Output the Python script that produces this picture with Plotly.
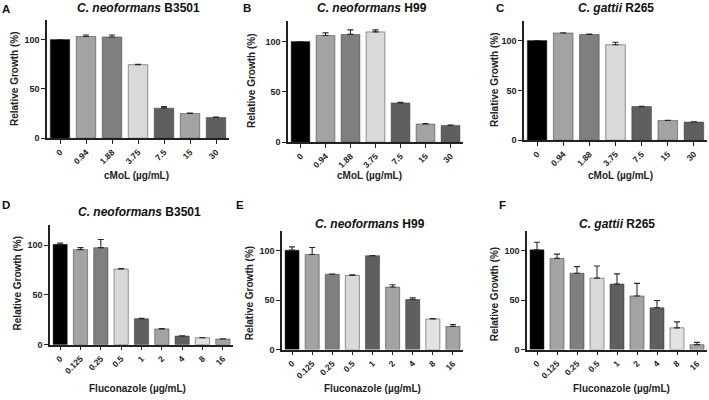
import plotly.graph_objects as go

W, H = 709, 400

# ---------------- data ----------------
cmol_labels = ["0", "0.94", "1.88", "3.75", "7.5", "15", "30"]
flu_labels = ["0", "0.125", "0.25", "0.5", "1", "2", "4", "8", "16"]

A_vals = [100, 103, 102.5, 74.5, 30.5, 25, 21]
A_err = [0, 1.5, 2, 0.5, 1.5, 0.5, 0.4]
B_vals = [100, 106, 107, 109.5, 39, 18, 16.7]
B_err = [0, 2.5, 4.5, 2, 0.6, 0.4, 0.3]
C_vals = [100, 107.5, 106, 95.7, 33.7, 19.8, 18.2]
C_err = [0, 0.3, 0.5, 2.6, 0.3, 0.3, 0.3]
D_vals = [100.7, 95.4, 97.4, 75.9, 26, 15.8, 8.6, 6.9, 5.6]
D_err = [1.3, 2, 8.2, 0.4, 0.5, 0.4, 0.3, 0.3, 0.3]
E_vals = [100.7, 96.3, 76.3, 75, 95, 63.3, 50.7, 31, 23.3]
E_err = [3.3, 7, 0.3, 0.6, 0.2, 2.4, 1.6, 0.4, 2]
F_vals = [101, 92.3, 77.3, 72.3, 66.3, 54.3, 42.3, 22, 5]
F_err = [7.7, 4.4, 6.7, 12.4, 10.4, 12.7, 7.4, 6, 2.3]

bar_colors = ["#000000", "#a3a3a3", "#7f7f7f", "#d9d9d9", "#5f5f5f",
              "#a3a3a3", "#5f5f5f", "#e2e2e2", "#a3a3a3"]

titles = [
    "<b><i>C. neoformans</i> B3501</b>",
    "<b><i>C. neoformans</i> H99</b>",
    "<b><i>C. gattii</i> R265</b>",
    "<b><i>C. neoformans</i> B3501</b>",
    "<b><i>C. neoformans</i> H99</b>",
    "<b><i>C. gattii</i> R265</b>",
]
letters = ["A", "B", "C", "D", "E", "F"]
xtitles = ["cMoL (µg/mL)"] * 3 + ["Fluconazole (µg/mL)"] * 3

panels = [
    (cmol_labels, A_vals, A_err),
    (cmol_labels, B_vals, B_err),
    (cmol_labels, C_vals, C_err),
    (flu_labels, D_vals, D_err),
    (flu_labels, E_vals, E_err),
    (flu_labels, F_vals, F_err),
]

# ---------------- layout geometry (pixels) ----------------
geom = [
    (47, 229, 140, 20),
    (288, 463, 144, 21.6),
    (524, 707, 142, 20.8),
    (50, 233, 349, 228),
    (282, 463, 354, 234),
    (527, 707, 354, 234),
]
title_pos = [(138, 8), (372, 8), (616, 8), (139, 215), (370, 227), (617, 227)]
letter_pos = [(6, 9), (247, 8), (500, 8), (6, 208), (240, 208), (502, 208)]
ytitle_pos = [(15, 80), (252, 82), (495, 81), (17, 287), (249, 297), (494, 298)]
xtitle_pos = [(136, 178), (369, 178), (620, 178), (137, 393), (372, 393), (621, 393)]

FONT = "Arial, Liberation Sans, sans-serif"

def px(x):
    return x / W

def py(y):
    return 1 - y / H

fig = go.Figure()
layout = dict(
    width=W, height=H,
    margin=dict(l=0, r=0, t=0, b=0),
    paper_bgcolor="white", plot_bgcolor="white",
    showlegend=False,
    font=dict(family=FONT, color="#222222"),
)
annotations = []

for i, (labels, vals, errs) in enumerate(panels):
    n = i + 1
    xa = "x" if n == 1 else f"x{n}"
    ya = "y" if n == 1 else f"y{n}"
    fig.add_trace(go.Bar(
        x=labels, y=vals,
        xaxis=xa, yaxis=ya,
        width=0.75 if len(labels) == 7 else 0.7,
        marker=dict(color=bar_colors[:len(labels)],
                    line=dict(color="#333333", width=0.5)),
        error_y=dict(type="data", array=errs, arrayminus=[0] * len(errs),
                     symmetric=False, color="#2a2a2a", thickness=1.1, width=3),
    ))
    x0, x1, yz, yt = geom[i]
    axkey_x = "xaxis" if n == 1 else f"xaxis{n}"
    axkey_y = "yaxis" if n == 1 else f"yaxis{n}"
    layout[axkey_x] = dict(
        domain=[px(x0), px(x1)], anchor=ya,
        type="category", range=[-0.5, len(labels) - 0.5],
        showline=True, linecolor="#222222", linewidth=1.5,
        ticks="outside", ticklen=4, tickwidth=1.2, tickcolor="#222222",
        tickangle=-45, showgrid=False, zeroline=False,
        tickfont=dict(size=8.5, family=FONT, weight="bold", color="#222222"),
    )
    layout[axkey_y] = dict(
        domain=[py(yz), py(yt)], anchor=xa,
        range=[0, 120], tickvals=[0, 50, 100],
        showline=True, linecolor="#222222", linewidth=1.5,
        ticks="outside", ticklen=4, tickwidth=1.2, tickcolor="#222222",
        showgrid=False, zeroline=False,
        tickfont=dict(size=9, family=FONT, weight="bold", color="#222222"),
    )
    tx, ty = title_pos[i]
    annotations.append(dict(text=titles[i], x=px(tx), y=py(ty), xref="paper", yref="paper",
                            showarrow=False, xanchor="center", yanchor="middle",
                            font=dict(size=12, family=FONT, color="#111111")))
    lx, ly = letter_pos[i]
    annotations.append(dict(text=f"<b>{letters[i]}</b>", x=px(lx), y=py(ly), xref="paper", yref="paper",
                            showarrow=False, xanchor="center", yanchor="middle",
                            font=dict(size=11.5, family=FONT, color="#111111")))
    yx, yy = ytitle_pos[i]
    annotations.append(dict(text="<b>Relative Growth (%)</b>", x=px(yx), y=py(yy), xref="paper", yref="paper",
                            showarrow=False, xanchor="center", yanchor="middle", textangle=-90,
                            font=dict(size=10, family=FONT, color="#222222")))
    xx, xy = xtitle_pos[i]
    annotations.append(dict(text=f"<b>{xtitles[i]}</b>", x=px(xx), y=py(xy), xref="paper", yref="paper",
                            showarrow=False, xanchor="center", yanchor="middle",
                            font=dict(size=10, family=FONT, color="#222222")))

layout["annotations"] = annotations
fig.update_layout(**layout)
fig.write_html("out.html")
